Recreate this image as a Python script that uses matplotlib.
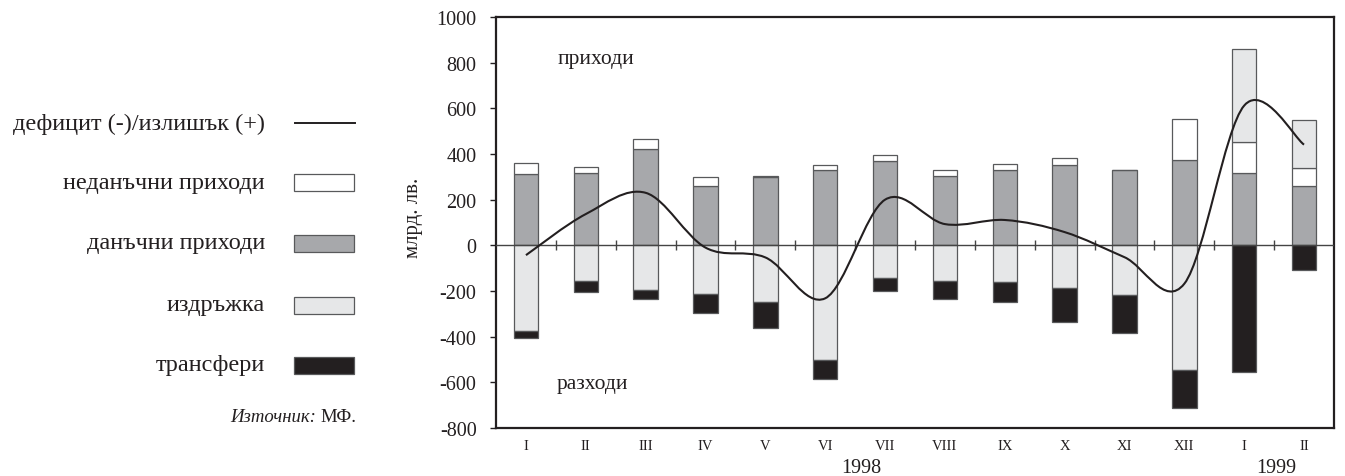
import numpy as np
import matplotlib
matplotlib.use("Agg")
import matplotlib.pyplot as plt
from matplotlib.patches import Rectangle
from matplotlib.lines import Line2D
from matplotlib.path import Path
from matplotlib.patches import PathPatch

plt.rcParams['font.family'] = ['Liberation Serif', 'DejaVu Serif']
plt.rcParams['axes.unicode_minus'] = False

# months of 1998 and first two of 1999
months = ['I', 'II', 'III', 'IV', 'V', 'VI', 'VII', 'VIII', 'IX', 'X', 'XI', 'XII', 'I', 'II']
tax_rev = [311, 317, 420, 258, 298, 331, 368, 304, 330, 352, 331, 372, 315, 258]
nontax_rev = [48, 25, 44, 40, 4, 19, 26, 24, 27, 29, 0, 181, 139, 81]
maintenance = [-375, -155, -197, -212, -248, -501, -143, -156, -162, -187, -219, -546, 404, 208]
transfers = [-31, -50, -40, -86, -114, -85, -57, -79, -88, -148, -167, -167, -555, -110]
balance = [-43, 137, 230, -10, -53, -232, 200, 93, 111, 58, -52, -168, 612, 441]

C_TAX = '#a7a8ab'
C_NONTAX = '#ffffff'
C_MAINT = '#e6e7e8'
C_TRANS = '#231f20'
EDGE = '#58595b'
INK = '#231f20'


def smooth_path(xs, ys):
	"""Excel-like smoothed line: cubic Bezier through every point."""
	pts = np.column_stack([xs, ys]).astype(float)
	n = len(pts)
	verts = [pts[0]]
	codes = [Path.MOVETO]
	for i in range(n - 1):
		p0 = pts[i - 1] if i > 0 else pts[i]
		p1 = pts[i]
		p2 = pts[i + 1]
		p3 = pts[i + 2] if i + 2 < n else pts[i + 1]
		c1 = p1 + (p2 - p0) / 6.0
		c2 = p2 - (p3 - p1) / 6.0
		verts += [c1, c2, p2]
		codes += [Path.CURVE4] * 3
	return Path(verts, codes)


fig = plt.figure(figsize=(13.45, 4.77), dpi=100)
ax = fig.add_axes([0.3688, 0.1006, 0.6230, 0.8617])

x = np.arange(len(months))
tax = np.array(tax_rev)
nontax = np.array(nontax_rev)
maint = np.array(maintenance)
trans = np.array(transfers)

w = 0.41
ax.bar(x, tax, w, color=C_TAX, edgecolor=EDGE, linewidth=0.9, zorder=2)
ax.bar(x, nontax, w, bottom=tax, color=C_NONTAX, edgecolor=EDGE, linewidth=0.9, zorder=2)
maint_bottom = np.where(maint < 0, 0, tax + nontax)
ax.bar(x, maint, w, bottom=maint_bottom, color=C_MAINT, edgecolor=EDGE, linewidth=0.9, zorder=2)
trans_bottom = np.minimum(maint, 0)
ax.bar(x, trans, w, bottom=trans_bottom, color=C_TRANS, edgecolor=EDGE, linewidth=0.9, zorder=2)

# zero line with small separators between months
ax.axhline(0, color='#444444', linewidth=1.0, zorder=3)
ax.plot(x[:-1] + 0.5, np.zeros(len(x) - 1), linestyle='none', marker='|',
	markersize=7, markeredgewidth=1.0, color='#444444', zorder=3)

# smoothed balance line
ax.add_patch(PathPatch(smooth_path(x, balance), facecolor='none',
	edgecolor=INK, linewidth=1.5, zorder=4))

ax.set_xlim(-0.5, len(months) - 0.5)
ax.set_ylim(-800, 1000)
ax.set_yticks(np.arange(-800, 1001, 200))
ax.tick_params(axis='y', length=4, width=1.0, direction='out', labelsize=14.5,
	pad=10, colors=INK)
ax.set_xticks(x)
ax.set_xticklabels(months)
ax.tick_params(axis='x', length=0, labelsize=10.5, pad=8, colors=INK)
for s in ax.spines.values():
	s.set_linewidth(1.6)
	s.set_color(INK)

ax.set_ylabel('млрд. лв.', fontsize=15, color=INK)
ax.yaxis.set_label_coords(-0.0871, 0.513)

ax.text(0.52, 816, 'приходи', fontsize=15.5, va='center', ha='left', color=INK)
ax.text(0.52, -603, 'разходи', fontsize=15.5, va='center', ha='left', color=INK)

ax.text(5.61, -975, '1998', fontsize=14.5, ha='center', va='center', color=INK)
ax.text(12.53, -975, '1999', fontsize=14.5, ha='center', va='center', color=INK)

# legend on the left side of the figure
W, H = 1345.0, 477.0
labels = ['дефицит (-)/излишък (+)', 'неданъчни приходи', 'данъчни приходи', 'издръжка', 'трансфери']
ys = [124, 183, 244, 306, 366]
colors = [None, C_NONTAX, C_TAX, C_MAINT, C_TRANS]
for lab, yy, col in zip(labels, ys, colors):
	fy = 1 - yy / H
	fig.text(265 / W, fy, lab, fontsize=17.5, ha='right', va='center', color=INK)
	if col is None:
		fig.add_artist(Line2D([295 / W, 355 / W], [fy, fy], color=INK,
			linewidth=1.4, transform=fig.transFigure))
	else:
		fig.add_artist(Rectangle((294 / W, fy - 8.5 / H), 60 / W, 17 / H,
			facecolor=col, edgecolor=EDGE, linewidth=0.9, transform=fig.transFigure))

fig.text(316 / W, 1 - 418 / H, 'Източник:', fontsize=13.5, style='italic',
	ha='right', va='center', color=INK)
fig.text(320 / W, 1 - 418 / H, 'МФ.', fontsize=13.5, ha='left', va='center', color=INK)

fig.savefig('out.png', dpi=100)
